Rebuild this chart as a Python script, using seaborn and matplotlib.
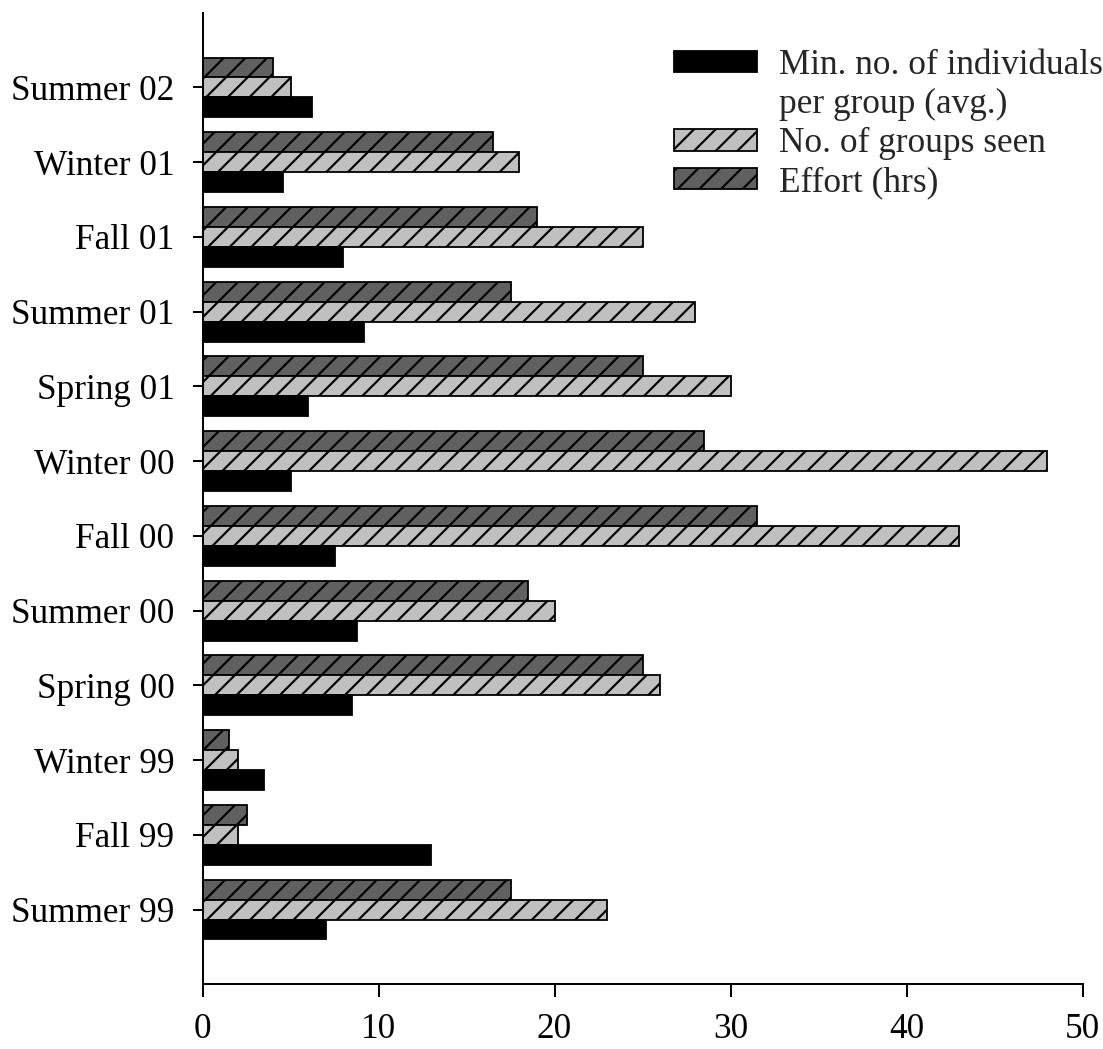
import matplotlib
matplotlib.use("Agg")
import matplotlib.pyplot as plt
import matplotlib.patches as mpatches
import pandas as pd
import seaborn as sns

seasons = ["Summer 02", "Winter 01", "Fall 01", "Summer 01", "Spring 01", "Winter 00",
           "Fall 00", "Summer 00", "Spring 00", "Winter 99", "Fall 99", "Summer 99"]
effort_hrs = [4, 16.5, 19, 17.5, 25, 28.5, 31.5, 18.5, 25, 1.5, 2.5, 17.5]
groups_seen = [5, 18, 25, 28, 30, 48, 43, 20, 26, 2, 2, 23]
min_individuals = [6.2, 4.6, 8, 9.2, 6, 5, 7.5, 8.8, 8.5, 3.5, 13, 7]

series_names = ["Effort (hrs)", "No. of groups seen", "Min. no. of individuals"]
series_colors = ["#606060", "#c0c0c0", "#000000"]
series_hatches = ["//", "//", ""]

df = pd.DataFrame({
    "season": seasons * 3,
    "measure": [series_names[0]] * 12 + [series_names[1]] * 12 + [series_names[2]] * 12,
    "value": effort_hrs + groups_seen + min_individuals,
})

sns.set_theme(style="white")
plt.rcParams["font.family"] = ["Liberation Serif", "DejaVu Serif"]
plt.rcParams["hatch.linewidth"] = 1.2

DPI = 130
fig = plt.figure(figsize=(1103 / DPI, 1049 / DPI), dpi=DPI)
ax = fig.add_axes([202.5 / 1103, 1 - 984.3 / 1049, 880 / 1103, (984.3 - 12.7) / 1049])

sns.barplot(data=df, x="value", y="season", hue="measure", order=seasons,
            hue_order=series_names, palette=series_colors, orient="h",
            width=0.8, edgecolor="black", linewidth=1.0, saturation=1,
            legend=False, ax=ax)

for cont, h in zip(ax.containers, series_hatches):
    for bar in cont:
        bar.set_hatch(h)

ax.set_xlim(0, 50)
ax.set_ylim(12, -1)
ax.set_xticks([0, 10, 20, 30, 40, 50])
ax.set_xlabel("")
ax.set_ylabel("")

for side in ["top", "right"]:
    ax.spines[side].set_visible(False)
for side in ["left", "bottom"]:
    ax.spines[side].set_color("black")
    ax.spines[side].set_linewidth(1.1)

fs = 19.5
ax.tick_params(axis="x", which="major", bottom=True, direction="out", length=7,
               width=1.1, color="black", labelsize=fs, pad=9, labelcolor="black")
ax.tick_params(axis="y", which="major", left=True, direction="out", length=5.5,
               width=1.1, color="black", labelsize=fs, pad=10, labelcolor="black")

# Legend: the first label spans two rows, so its second line gets an empty handle
handles = [
    mpatches.Patch(facecolor=series_colors[2], edgecolor="black", linewidth=1.0),
    mpatches.Patch(facecolor="none", edgecolor="none"),
    mpatches.Patch(facecolor=series_colors[1], edgecolor="black", linewidth=1.0, hatch="//"),
    mpatches.Patch(facecolor=series_colors[0], edgecolor="black", linewidth=1.0, hatch="//"),
]
labels = ["Min. no. of individuals", "per group (avg.)", "No. of groups seen", "Effort (hrs)"]
fig.legend(handles, labels, loc="upper left", bbox_to_anchor=(674 / 1103, 1 - 49 / 1049),
           frameon=False, fontsize=fs, handlelength=2.37, handleheight=0.57,
           handletextpad=0.6, labelspacing=0.17, borderpad=0, borderaxespad=0)

fig.savefig("out.png", dpi=DPI)
